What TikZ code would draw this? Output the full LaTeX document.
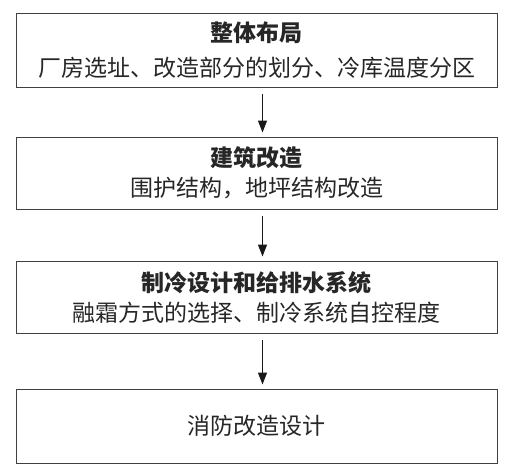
\documentclass[tikz,border=0pt]{standalone}
\usepackage{fontspec}
\setmainfont{Noto Sans CJK SC}
\usetikzlibrary{arrows.meta}

\tikzset{
  stage/.style={draw=black!75, line width=1pt, minimum width=481pt,
    inner sep=0pt, align=center, text=black!85,
    font=\fontsize{23}{30}\selectfont},
  flow/.style={-{Triangle[length=12pt,width=9pt]}, line width=1.3pt,
    draw=black!90, shorten <=6pt, shorten >=4pt}
}

\begin{document}
\begin{tikzpicture}[x=1pt, y=1pt]
            \useasboundingbox (0, 0) rectangle (511, -474);

            \node[stage, minimum height=74pt] (layout) at (256.5, -50)
              {{\bfseries 整体布局}\\[5pt]厂房选址、改造部分的划分、冷库温度分区};
            \node[stage, minimum height=72pt] (build) at (256.5, -173)
              {{\bfseries 建筑改造}\\围护结构，地坪结构改造};
            \node[stage, minimum height=72pt] (cool) at (256.5, -297)
              {{\bfseries 制冷设计和给排水系统}\\融霜方式的选择、制冷系统自控程度};
            \node[stage, minimum height=74pt] (fire) at (256.5, -426)
              {消防改造设计};

            \draw[flow] ([xshift=6pt]layout.south) -- ([xshift=6pt]build.north); % layout-build
            \draw[flow] ([xshift=6pt]build.south) -- ([xshift=6pt]cool.north); % build-cool
            \draw[flow] ([xshift=6pt]cool.south) -- ([xshift=6pt]fire.north); % cool-fire
\end{tikzpicture}
\end{document}
